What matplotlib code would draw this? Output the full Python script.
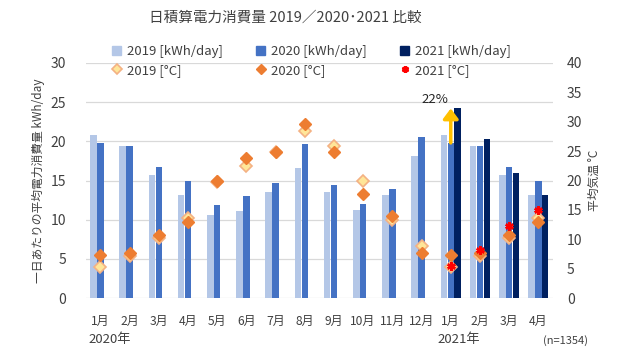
import matplotlib
matplotlib.use("Agg")
import matplotlib.pyplot as plt
import numpy as np
from matplotlib.lines import Line2D
from matplotlib.patches import Patch

plt.rcParams['font.family'] = ['Noto Sans CJK JP', 'DejaVu Sans']

months = ["1月", "2月", "3月", "4月", "5月", "6月", "7月", "8月", "9月", "10月",
          "11月", "12月", "1月", "2月", "3月", "4月"]
kwh_2019 = [20.8, 19.4, 15.7, 13.1, 10.6, 11.1, 13.6, 16.6, 13.5, 11.2, 13.2, 18.1,
            20.8, 19.4, 15.7, 13.1]
kwh_2020 = [19.8, 19.4, 16.7, 14.9, 11.9, 13.0, 14.7, 19.7, 14.4, 12.0, 13.9, 20.6,
            19.8, 19.4, 16.7, 14.9]
kwh_2021 = [None] * 12 + [24.2, 20.3, 15.9, 13.2]
temp_2019 = [5.3, 7.2, 10.3, 13.7, 19.8, 22.5, 24.9, 28.5, 25.9, 19.9, 13.3, 8.8,
             5.3, 7.2, 10.3, 13.7]
temp_2020 = [7.3, 7.7, 10.7, 13.0, 19.9, 23.8, 24.9, 29.6, 24.8, 17.7, 14.0, 7.6,
             7.3, 7.7, 10.7, 13.0]
temp_2021 = [None] * 12 + [5.4, 8.1, 12.3, 15.0]
increase_label = "22%"

c19, c20, c21 = '#B4C7E7', '#4472C4', '#002060'
txt = '#404040'

fig = plt.figure(figsize=(6.4, 3.6), dpi=100)
ax = fig.add_axes([0.134, 0.172, 0.73, 0.653])
ax2 = ax.twinx()

x = np.arange(len(months))
w = 0.22
off = 0.235
ax.bar(x - off, kwh_2019, w, color=c19, zorder=2)
ax.bar(x, kwh_2020, w, color=c20, zorder=2)
x21 = [xi + off for xi, v in zip(x, kwh_2021) if v is not None]
v21 = [v for v in kwh_2021 if v is not None]
ax.bar(x21, v21, w, color=c21, zorder=2)

ax.set_xlim(-0.5, len(months) - 0.5)
ax.set_ylim(0, 30)
ax.set_yticks(range(0, 31, 5))
ax.grid(axis='y', color='#D9D9D9', linewidth=0.9, zorder=0)
ax.set_axisbelow(True)
ax.set_xticks(x)
ax.set_xticklabels(months, fontsize=8.7, color=txt)
ax.tick_params(axis='both', length=0, colors=txt)
ax.tick_params(axis='y', labelsize=10, pad=14)
ax.tick_params(axis='x', pad=12)
for s in ax.spines.values():
    s.set_visible(False)
for s in ax2.spines.values():
    s.set_visible(False)

ax.set_ylabel("一日あたりの平均電力消費量 kWh/day", fontsize=8.5, color=txt, labelpad=4)

ax2.set_ylim(0, 40)
ax2.set_yticks(range(0, 41, 5))
ax2.tick_params(axis='y', length=0, labelsize=10, colors=txt, pad=10)
ax2.set_ylabel("平均気温 °C", fontsize=8.5, color=txt, labelpad=4)

ax2.plot(x, temp_2019, linestyle='none', marker='D', markersize=6,
         markerfacecolor='#FFE699', markeredgecolor='#F4B183', markeredgewidth=1.2, zorder=3)
ax2.plot(x, temp_2020, linestyle='none', marker='D', markersize=6,
         markerfacecolor='#ED7D31', markeredgecolor='#ED7D31', zorder=4)
xt21 = [xi for xi, v in zip(x, temp_2021) if v is not None]
t21 = [v for v in temp_2021 if v is not None]
ax2.plot(xt21, t21, linestyle='none', marker=(6, 2, 0), markersize=6,
         markeredgecolor='#FF0000', markeredgewidth=1.8, zorder=5)

# increase arrow
ax.annotate("", xy=(12, kwh_2021[12]), xytext=(12, kwh_2020[12]),
            arrowprops=dict(arrowstyle='-|>,head_width=0.45,head_length=0.6',
                            color='#FFC000', lw=2.5, shrinkA=0, shrinkB=0), zorder=6)
ax.text(11.45, kwh_2021[12] + 0.3, increase_label, fontsize=9.5, color='#262626',
        ha='center', va='bottom')

# year labels
fig.text(88 / 640, 1 - 339 / 360, "2020年", fontsize=9.5, color=txt, va='center', ha='left')
fig.text(437 / 640, 1 - 339 / 360, "2021年", fontsize=9.5, color=txt, va='center', ha='left')
fig.text(566 / 640, 1 - 341 / 360, "(n=1354)", fontsize=8, color=txt, va='center', ha='center')

fig.text(0.446, 1 - 18 / 360, "日積算電力消費量 2019／2020･2021 比較", fontsize=10.5,
         color=txt, ha='center', va='center')

handles = [
    Patch(color=c19, label="2019 [kWh/day]"),
    Line2D([], [], linestyle='none', marker='D', markersize=5, markerfacecolor='#FFE699',
           markeredgecolor='#F4B183', markeredgewidth=1.2, label="2019 [°C]"),
    Patch(color=c20, label="2020 [kWh/day]"),
    Line2D([], [], linestyle='none', marker='D', markersize=5, markerfacecolor='#ED7D31',
           markeredgecolor='#ED7D31', label="2020 [°C]"),
    Patch(color=c21, label="2021 [kWh/day]"),
    Line2D([], [], linestyle='none', marker=(6, 2, 0), markersize=5,
           markeredgecolor='#FF0000', markeredgewidth=1.8, label="2021 [°C]"),
]
leg = fig.legend(handles=handles, ncol=3, loc='upper left',
                 bbox_to_anchor=(112 / 640, 1 - 45 / 360), frameon=False,
                 fontsize=9.5, handlelength=0.7, handleheight=0.7, handletextpad=0.45,
                 columnspacing=2.5, labelspacing=0.45, borderaxespad=0, borderpad=0)
for t in leg.get_texts():
    t.set_color(txt)

fig.savefig("out.png", dpi=100)
